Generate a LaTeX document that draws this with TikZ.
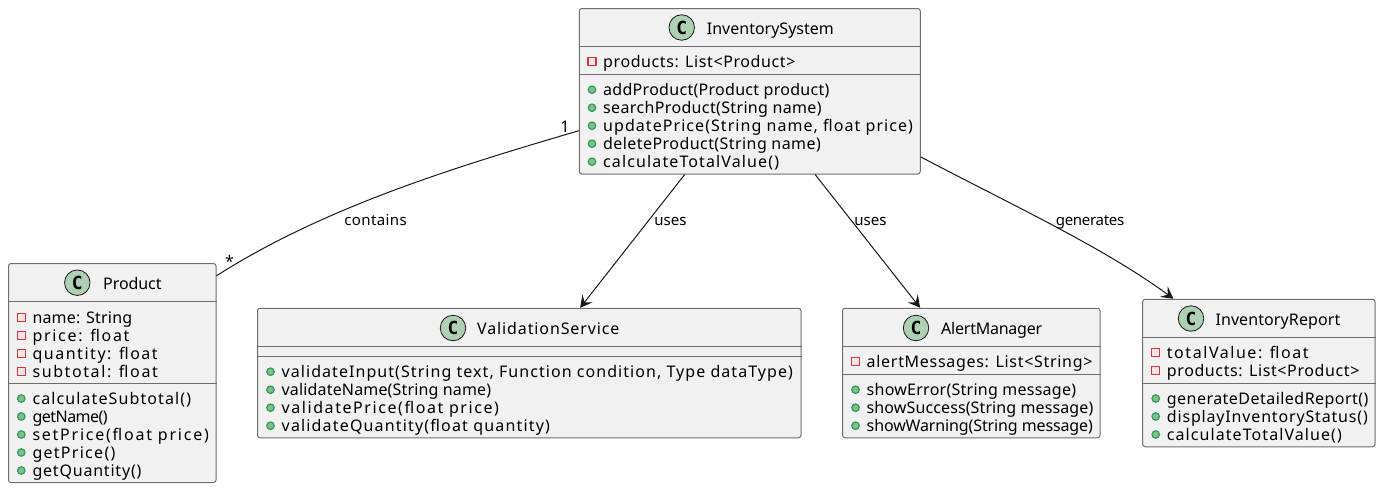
\documentclass[tikz,border=0pt]{standalone}
\usepackage{fontspec}
\setmainfont{Noto Sans}
\newfontfamily\spotfont{DejaVu Sans Mono}
\usetikzlibrary{arrows.meta}
\definecolor{boxfill}{HTML}{F1F1F1}
\definecolor{boxline}{HTML}{6E6E6E}
\definecolor{inkline}{HTML}{181818}
\definecolor{spotfill}{HTML}{ADD1B2}
\definecolor{pubfill}{HTML}{84BE84}
\definecolor{publine}{HTML}{2E9A66}
\definecolor{privline}{HTML}{D8343F}
\definecolor{privfill}{HTML}{F8E4E6}
\tikzset{
  classbox/.style={draw=boxline, line width=1pt, fill=boxfill, rounded corners=2.5pt, inner sep=0pt},
  sepline/.style={draw=boxline, line width=1pt},
  spot/.style={circle, draw=inkline, line width=0.8pt, fill=spotfill, minimum size=25.5pt, inner sep=0pt, font=\spotfont\bfseries\fontsize{18}{18}\selectfont},
  classname/.style={anchor=base west, inner sep=0pt, text=black, font=\fontsize{16}{18}\selectfont\addfontfeature{LetterSpace=#1}},
  member/.style={anchor=base west, inner sep=0pt, text=black, font=\fontsize{16}{18}\selectfont\addfontfeature{LetterSpace=#1}},
  pubdot/.style={circle, draw=publine, line width=1.2pt, fill=pubfill, minimum size=7.5pt, inner sep=0pt},
  privdot/.style={rectangle, draw=privline, line width=1.4pt, fill=privfill, minimum size=8pt, inner sep=0pt},
  link/.style={draw=inkline, line width=1pt},
  linkarrow/.style={link, -{Stealth[length=12pt, width=13pt, inset=5pt]}},
  linktext/.style={anchor=base, inner sep=0pt, text=black, font=\fontsize{15}{17}\selectfont\addfontfeature{LetterSpace=#1}},
}
\begin{document}
\begin{tikzpicture}[x=1pt, y=-1pt, line join=round]
  \useasboundingbox (0,0) rectangle (1383,490);
  % class boxes
  \node[classbox, minimum width=341pt, minimum height=165.5pt] (sys) at (749.75,91.25) {};
  \node[classbox, minimum width=207.5pt, minimum height=219pt] (prod) at (112.25,373) {};
  \node[classbox, minimum width=543.5pt, minimum height=129.5pt] (valid) at (529.25,373) {};
  \node[classbox, minimum width=257.5pt, minimum height=129.5pt] (alert) at (971.25,373) {};
  \node[classbox, minimum width=232.3pt, minimum height=147.5pt] (report) at (1258.85,373) {};
  % compartment lines
  \foreach \bx/\yy in {sys/46.5, sys/74.5, prod/301.7, prod/383.5, valid/346.7, valid/356.3, alert/346.7, alert/374.5, report/337.5, report/383.5}
    \draw[sepline] (\bx.west |- 0,\yy) -- (\bx.east |- 0,\yy);
  % headers
  \node[spot] (sysspot) at (681.7,27.5) {C};
  \node[classname=0] (sysname) at (706.7,34) {InventorySystem};
  \node[spot] (prodspot) at (77.3,282.7) {C};
  \node[classname=-0.5] (prodname) at (103,289.7) {Product};
  \node[spot] (validspot) at (453,328) {C};
  \node[classname=5.5] (validname) at (477,334.5) {ValidationService};
  \node[spot] (alertspot) at (916,328) {C};
  \node[classname=-1.5] (alertname) at (941,334.5) {AlertManager};
  \node[spot] (reportspot) at (1191,318.5) {C};
  \node[classname=0.6] (reportname) at (1215.3,325) {InventoryReport};
  % private fields
  \foreach \n/\xx/\yy/\ls/\txt in {
    sysa/592/61.7/3.7/{products: List<Product>},
    proda/21.3/317.5/1.2/{name: String},
    prodb/21.3/335.5/10.6/{price: float},
    prodc/21.3/353.5/9.6/{quantity: float},
    prodd/21.3/371.5/10/{subtotal: float},
    alerta/855.5/361.7/4.4/{alertMessages: List<String>},
    reporta/1155.7/352.5/9.7/{totalValue: float},
    reportb/1155.7/370.5/3.8/{products: List<Product>}} {
    \node[privdot] (\n dot) at (\xx,\yy) {};
    \node[member=\ls] (\n) at (\xx+11,\yy+5.5) {\txt};
  }
  % public methods
  \foreach \n/\xx/\yy/\ls/\txt in {
    sysb/592/89.7/1.8/{addProduct(Product product)},
    sysc/592/107.7/2.2/{searchProduct(String name)},
    sysd/592/125.7/6.6/{updatePrice(String name, float price)},
    syse/592/143.7/2.7/{deleteProduct(String name)},
    sysf/592/161.7/7/{calculateTotalValue()},
    prode/21.3/398.5/6.9/{calculateSubtotal()},
    prodf/21.3/416.5/-3.2/{getName()},
    prodg/21.3/434.5/11/{setPrice(float price)},
    prodh/21.3/452.5/8/{getPrice()},
    prodi/21.3/470.5/5/{getQuantity()},
    valida/270.5/371.7/6.6/{validateInput(String text, Function condition, Type dataType)},
    validb/270.5/389.7/1/{validateName(String name)},
    validc/270.5/407.7/9.8/{validatePrice(float price)},
    validd/270.5/425.7/7.3/{validateQuantity(float quantity)},
    alertb/855.5/389.7/1.6/{showError(String message)},
    alertc/855.5/407.7/0.7/{showSuccess(String message)},
    alertd/855.5/425.7/-0.8/{showWarning(String message)},
    reportc/1155.7/398.5/2.9/{generateDetailedReport()},
    reportd/1155.7/416.5/5.2/{displayInventoryStatus()},
    reporte/1155.7/434.5/6.7/{calculateTotalValue()}} {
    \node[pubdot] (\n dot) at (\xx,\yy) {};
    \node[member=\ls] (\n) at (\xx+11,\yy+5.5) {\txt};
  }
  % connectors
  \draw[link] (sys.193.4) .. controls (459,166) and (326,206) .. (prod.43.2);
  \draw[linkarrow] (sys) -- (valid);
  \draw[linkarrow] (sys) -- (alert);
  \draw[linkarrow] (sys.-21.9) .. controls (1010,204) and (1103,247) .. (report.139.3);
  \node[linktext=2.6] (containstext) at (375.5,225) {contains};
  \node[linktext=0] (usesa) at (670.5,225) {uses};
  \node[linktext=0] (usesb) at (870.5,225) {uses};
  \node[linktext=-2] (genstext) at (1090,225) {generates};
  \node[linktext=0, font=\fontsize{16}{18}\selectfont] (onetext) at (565,132) {1};
  \node[linktext=0, font=\fontsize{16}{18}\selectfont] (startext) at (229.5,267) {*};
\end{tikzpicture}
\end{document}
